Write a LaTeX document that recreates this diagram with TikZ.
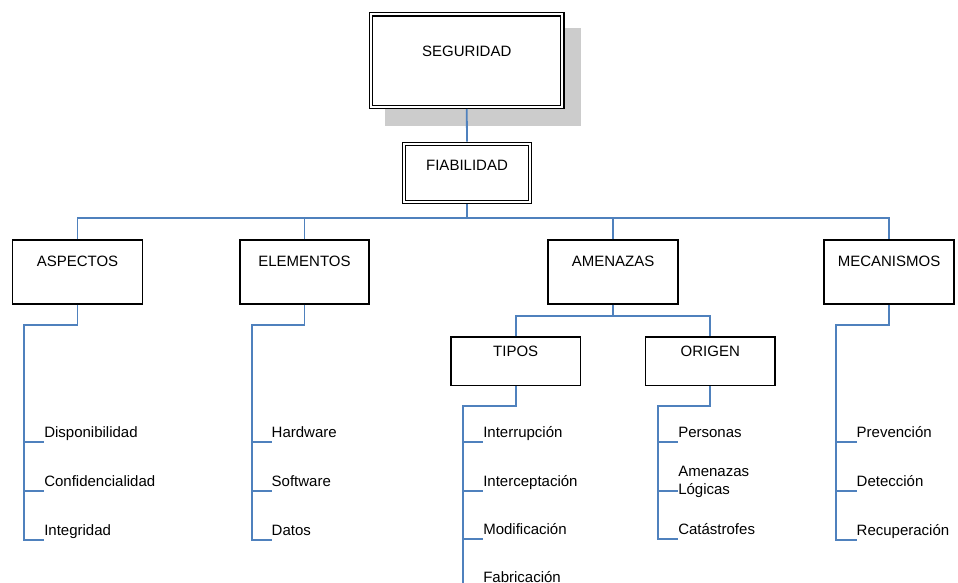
\documentclass[tikz,border=0pt]{standalone}
\usepackage{fontspec}
\setmainfont{Liberation Sans}
\usetikzlibrary{backgrounds}
\definecolor{linkblue}{RGB}{79,129,189}
\definecolor{shadowgray}{RGB}{204,204,204}
\begin{document}
\begin{tikzpicture}[x=1pt,y=-1pt,
  font=\fontsize{15}{18.3}\selectfont,
  box/.style={draw=black, line width=1.3pt, inner sep=0pt, fill=white},
  dbox/.style={draw=black, line width=1.2pt, double=white, double distance=2pt,
               inner sep=0pt, outer sep=2.2pt, fill=white},
  conn/.style={draw=linkblue, line width=1.8pt},
  item/.style={inner sep=0pt, outer sep=0pt, text depth=4.4pt, anchor=south west}]

\useasboundingbox (0,0) rectangle (958,583);
\clip (0,0) rectangle (958,583);

% top of the hierarchy
\node[dbox, minimum width=191.1pt, text height=42.2pt, text depth=50.1pt] (seg) at (466.75,60.65) {SEGURIDAD};
\begin{scope}[on background layer]
  \fill[shadowgray] ([shift={(16,16)}]seg.north west) rectangle ([shift={(16,17)}]seg.south east);
\end{scope}
\node[dbox, minimum width=126.2pt, text height=26.1pt, text depth=32.1pt] (fia) at (467,173) {FIABILIDAD};

% second level
\node[box, minimum width=130pt, text height=26pt, text depth=38pt] (asp) at (77.5,272) {ASPECTOS};
\node[box, minimum width=129pt, text height=26pt, text depth=38pt] (ele) at (304.5,272) {ELEMENTOS};
\node[box, minimum width=130pt, text height=26pt, text depth=38pt] (ame) at (613,272) {AMENAZAS};
\node[box, minimum width=130pt, text height=26pt, text depth=38pt] (mec) at (889,272) {MECANISMOS};

% threats split
\node[box, minimum width=129.5pt, text height=19pt, text depth=29.5pt] (tip) at (515.7,361.25) {TIPOS};
\node[box, minimum width=129.5pt, text height=19pt, text depth=29.5pt] (ori) at (710.3,361.25) {ORIGEN};

% list items
\node[item] (a1) at (44.3,441.7) {Disponibilidad};
\node[item] (a2) at (44.3,491) {Confidencialidad};
\node[item] (a3) at (44.3,540) {Integridad};

\node[item] (e1) at (271.7,441.7) {Hardware};
\node[item] (e2) at (271.7,491) {Software};
\node[item] (e3) at (271.7,540) {Datos};

\node[item] (t1) at (483.3,442.3) {Interrupción};
\node[item] (t2) at (483.3,491) {Interceptación};
\node[item] (t3) at (483.3,539.3) {Modificación};
\coordinate (t4k) at (483.3,587);
\node[item, text depth=0pt] (t4) at (483.3,582) {Fabricación};

\node[item] (o1) at (678.3,442.3) {Personas};
\coordinate (o2) at (678.3,491);
\node[inner sep=0pt, outer sep=0pt, align=left, anchor=west, yshift=8.8pt] (o2l) at (o2) {Amenazas\\Lógicas};
\node[item] (o3) at (678.3,539.3) {Catástrofes};

\node[item] (m1) at (856.7,441.7) {Prevención};
\node[item] (m2) at (856.7,491) {Detección};
\node[item] (m3) at (856.7,540) {Recuperación};

% junction points
\coordinate (bus) at (467,218.3);
\coordinate (ameb) at (613,315.7);
\coordinate (aspk) at (24.3,324.7);
\coordinate (elek) at (251.7,324.7);
\coordinate (tipk) at (462.7,405.7);
\coordinate (orik) at (657.7,405.7);
\coordinate (meck) at (836.3,325);

% connectors
\draw[conn] (seg.south) -- (fia.north);
\draw[conn] (fia.south) -- (bus);
\draw[conn] (asp.north) |- (mec.north |- bus) -- (mec.north);
\draw[conn] (ele.north) -- (ele.north |- bus);
\draw[conn] (ame.north) -- (ame.north |- bus);

\draw[conn] (ame.south) -- (ameb);
\draw[conn] (tip.north) |- (ameb) -| (ori.north);

\draw[conn] (asp.south) |- (aspk) |- (a3.south west);
\draw[conn] (aspk |- a1.south west) -- (a1.south west);
\draw[conn] (aspk |- a2.south west) -- (a2.south west);

\draw[conn] (ele.south) |- (elek) |- (e3.south west);
\draw[conn] (elek |- e1.south west) -- (e1.south west);
\draw[conn] (elek |- e2.south west) -- (e2.south west);

\draw[conn] (tip.south) |- (tipk) |- (t4k);
\draw[conn] (tipk |- t1.south west) -- (t1.south west);
\draw[conn] (tipk |- t2.south west) -- (t2.south west);
\draw[conn] (tipk |- t3.south west) -- (t3.south west);

\draw[conn] (ori.south) |- (orik) |- (o3.south west);
\draw[conn] (orik |- o1.south west) -- (o1.south west);
\draw[conn] (orik |- o2) -- (o2);

\draw[conn] (mec.south) |- (meck) |- (m3.south west);
\draw[conn] (meck |- m1.south west) -- (m1.south west);
\draw[conn] (meck |- m2.south west) -- (m2.south west);
\end{tikzpicture}
\end{document}
